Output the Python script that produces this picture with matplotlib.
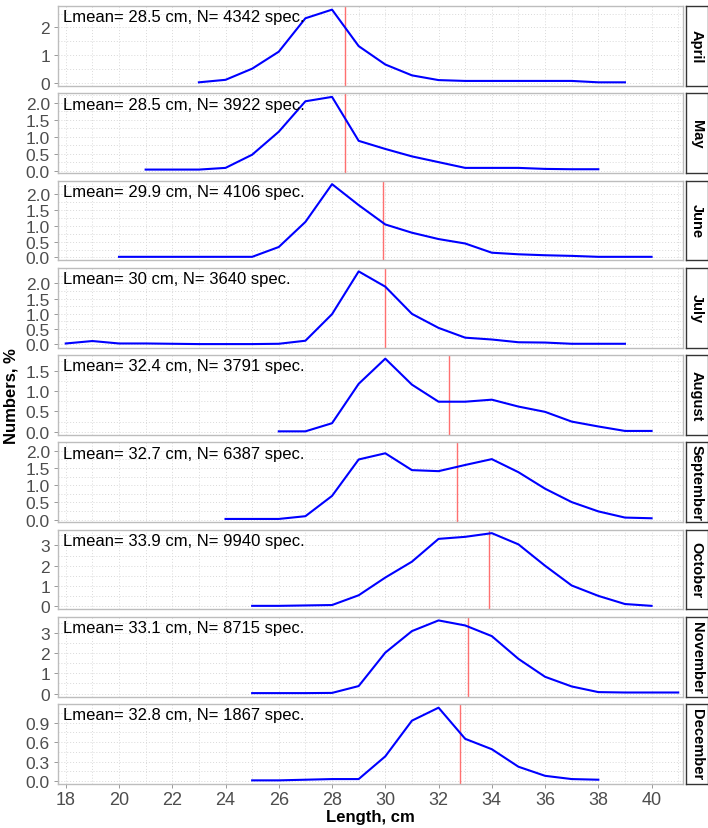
import matplotlib
matplotlib.use("Agg")
import matplotlib.pyplot as plt
import numpy as np

plt.rcParams['font.family'] = ['Liberation Sans', 'DejaVu Sans']

months = ["April", "May", "June", "July", "August", "September",
          "October", "November", "December"]
lmean = [28.5, 28.5, 29.9, 30, 32.4, 32.7, 33.9, 33.1, 32.8]
n_spec = [4342, 3922, 4106, 3640, 3791, 6387, 9940, 8715, 1867]

april_len = list(range(23, 40))
april_val = [0.03, 0.12, 0.52, 1.13, 2.33, 2.64, 1.33, 0.67, 0.28, 0.11,
             0.08, 0.08, 0.08, 0.08, 0.08, 0.03, 0.03]
may_len = list(range(21, 39))
may_val = [0.03, 0.03, 0.03, 0.08, 0.47, 1.15, 2.05, 2.18, 0.88, 0.64,
           0.42, 0.25, 0.08, 0.08, 0.08, 0.05, 0.04, 0.04]
june_len = list(range(20, 41))
june_val = [0.02, 0.02, 0.02, 0.02, 0.02, 0.02, 0.33, 1.12, 2.31, 1.65,
            1.04, 0.78, 0.58, 0.44, 0.15, 0.10, 0.07, 0.05, 0.02, 0.02, 0.02]
july_len = list(range(18, 40))
july_val = [0.03, 0.11, 0.03, 0.03, 0.02, 0.01, 0.01, 0.01, 0.02, 0.12,
            0.99, 2.39, 1.89, 1.00, 0.54, 0.22, 0.16, 0.07, 0.06, 0.02,
            0.02, 0.02]
aug_len = list(range(26, 41))
aug_val = [0.01, 0.01, 0.21, 1.18, 1.80, 1.16, 0.74, 0.74, 0.79, 0.62,
           0.49, 0.25, 0.13, 0.02, 0.02]
sep_len = list(range(24, 41))
sep_val = [0.02, 0.02, 0.02, 0.10, 0.69, 1.75, 1.93, 1.44, 1.41, 1.59,
           1.76, 1.38, 0.90, 0.51, 0.24, 0.06, 0.04]
oct_len = list(range(25, 41))
oct_val = [0.03, 0.03, 0.05, 0.07, 0.55, 1.42, 2.20, 3.32, 3.42, 3.60,
           3.05, 2.00, 1.03, 0.52, 0.12, 0.03]
nov_len = list(range(25, 42))
nov_val = [0.02, 0.02, 0.02, 0.03, 0.37, 2.03, 3.10, 3.63, 3.38, 2.85,
           1.72, 0.83, 0.35, 0.07, 0.05, 0.05, 0.05]
dec_len = list(range(25, 39))
dec_val = [0.01, 0.01, 0.02, 0.03, 0.03, 0.38, 0.93, 1.13, 0.65, 0.49,
           0.22, 0.08, 0.03, 0.02]

all_len = [april_len, may_len, june_len, july_len, aug_len, sep_len,
           oct_len, nov_len, dec_len]
all_val = [april_val, may_val, june_val, july_val, aug_val, sep_val,
           oct_val, nov_val, dec_val]

y_ticks = [
    [0, 1, 2],
    [0.0, 0.5, 1.0, 1.5, 2.0],
    [0.0, 0.5, 1.0, 1.5, 2.0],
    [0.0, 0.5, 1.0, 1.5, 2.0],
    [0.0, 0.5, 1.0, 1.5],
    [0.0, 0.5, 1.0, 1.5, 2.0],
    [0, 1, 2, 3],
    [0, 1, 2, 3],
    [0.0, 0.3, 0.6, 0.9],
]
y_ticklabels = [
    ["0", "1", "2"],
    ["0.0", "0.5", "1.0", "1.5", "2.0"],
    ["0.0", "0.5", "1.0", "1.5", "2.0"],
    ["0.0", "0.5", "1.0", "1.5", "2.0"],
    ["0.0", "0.5", "1.0", "1.5"],
    ["0.0", "0.5", "1.0", "1.5", "2.0"],
    ["0", "1", "2", "3"],
    ["0", "1", "2", "3"],
    ["0.0", "0.3", "0.6", "0.9"],
]
x_ticks = [18, 20, 22, 24, 26, 28, 30, 32, 34, 36, 38, 40]

W, H = 708, 829
fig = plt.figure(figsize=(W / 100, H / 100), dpi=100)
left_px, right_px = 58.3, 683.0
top_px, bottom_px = 7.0, 785.0
npan = len(months)
gap_px = 7.3
pan_h = (bottom_px - top_px - gap_px * (npan - 1)) / npan

grid_col = "#D9D9D9"
border_col = "#BDBDBD"
tick_col = "#4D4D4D"

axes = []
for i, m in enumerate(months):
    y0 = top_px + i * (pan_h + gap_px)
    ax = fig.add_axes([left_px / W, 1 - (y0 + pan_h) / H,
                       (right_px - left_px) / W, pan_h / H])
    axes.append(ax)
    xs = np.array(all_len[i])
    ys = np.array(all_val[i])
    ax.set_xlim(17.72, 41.18)
    ymin, ymax = ys.min(), ys.max()
    r = ymax - ymin
    ax.set_ylim(ymin - 0.05 * r, ymax + 0.05 * r)

    # grids
    ax.set_xticks(x_ticks)
    ax.set_xticks(np.arange(19, 42, 2), minor=True)
    yt = y_ticks[i]
    ax.set_yticks(yt)
    step = yt[1] - yt[0]
    ax.set_yticks([t + step / 2 for t in yt], minor=True)
    ax.grid(True, which="both", color=grid_col, linestyle=(0, (1, 2)),
            linewidth=0.7, zorder=0)
    ax.set_axisbelow(True)
    ax.set_yticklabels(y_ticklabels[i])
    ax.tick_params(axis="y", which="major", length=3, width=0.7,
                   color="#999999", labelsize=12.5, labelcolor=tick_col, pad=3)
    ax.tick_params(axis="both", which="minor", length=0)
    if i < npan - 1:
        ax.tick_params(axis="x", which="major", length=0, labelbottom=False)
    else:
        ax.tick_params(axis="x", which="major", length=3, width=0.7,
                       color="#999999", labelsize=13, labelcolor=tick_col,
                       pad=2)
    for sp in ax.spines.values():
        sp.set_color(border_col)
        sp.set_linewidth(1.0)

    ax.axvline(lmean[i], color="#FF7070", linewidth=1.0, zorder=2)
    ax.plot(xs, ys, color="#0000FF", linewidth=1.5, zorder=3)
    ax.text(0.008, 0.865, f"Lmean= {lmean[i]:g} cm, N= {n_spec[i]} spec.",
            transform=ax.transAxes, ha="left", va="center", fontsize=12,
            color="black", zorder=4)

    # strip on the right
    sw = (707.5 - 686.0) / (right_px - left_px)
    sg = (686.0 - right_px) / (right_px - left_px)
    sax = ax.inset_axes([1 + sg, 0, sw, 1])
    sax.set_xticks([])
    sax.set_yticks([])
    sax.set_facecolor("white")
    for sp in sax.spines.values():
        sp.set_color("#333333")
        sp.set_linewidth(1.0)
    sax.text(0.5, 0.5, m, rotation=-90, ha="center", va="center",
             fontsize=10.5, fontweight="bold", color="black",
             transform=sax.transAxes)

fig.text((left_px + right_px) / 2 / W, 1 - 818 / H, "Length, cm",
         ha="center", va="center", fontsize=12, fontweight="bold")
fig.text(11 / W, 1 - 396 / H, "Numbers, %", rotation=90,
         ha="center", va="center", fontsize=12, fontweight="bold")

fig.savefig("out.png", dpi=100)
